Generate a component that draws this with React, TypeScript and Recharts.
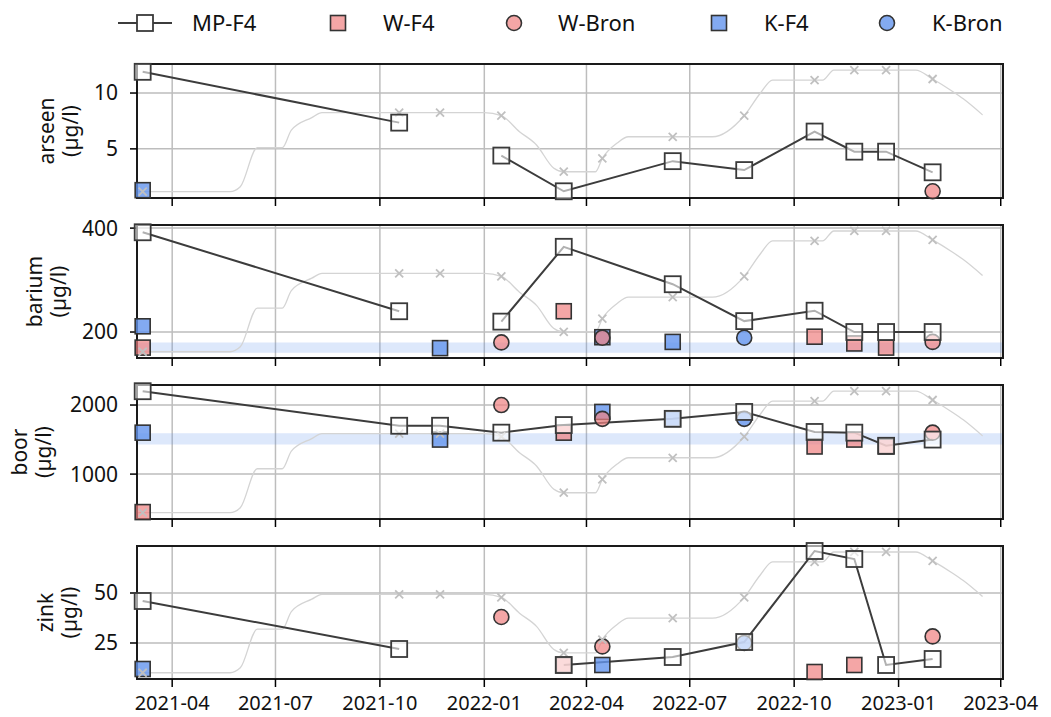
import React from 'react';
import {
  ComposedChart,
  Line,
  Scatter,
  XAxis,
  YAxis,
  CartesianGrid,
  ReferenceArea,
} from 'recharts';

// sampling dates (all series), MP-F4 has no sample on 2022-04-15
const sampleDates = [
  '2021-03-06', '2021-10-18', '2021-11-23', '2022-01-16', '2022-03-12', '2022-04-15',
  '2022-06-16', '2022-08-18', '2022-10-19', '2022-11-23', '2022-12-21', '2023-01-31',
];
const mpDates = [
  '2021-03-06', '2021-10-18', '2021-11-23', '2022-01-16', '2022-03-12',
  '2022-06-16', '2022-08-18', '2022-10-19', '2022-11-23', '2022-12-21', '2023-01-31',
];

const xTickDates = [
  '2021-04-01', '2021-07-01', '2021-10-01', '2022-01-01', '2022-04-01',
  '2022-07-01', '2022-10-01', '2023-01-01', '2023-04-01',
];
const xRange = ['2021-03-01', '2023-04-03'];

// background series (grey, own hidden axis 0-100)
const bgDates = [
  '2021-03-02', '2021-03-06', '2021-05-22', '2021-05-31', '2021-06-15', '2021-07-07',
  '2021-07-15', '2021-08-02', '2021-08-11', '2021-10-18', '2021-11-23', '2022-01-01',
  '2022-01-16', '2022-02-01', '2022-02-16', '2022-03-03', '2022-03-12', '2022-04-09',
  '2022-04-15', '2022-04-28', '2022-05-08', '2022-06-16', '2022-07-21', '2022-08-18',
  '2022-09-01', '2022-09-12', '2022-10-19', '2022-10-26', '2022-11-05', '2022-11-23',
  '2022-12-21', '2023-01-16', '2023-01-31', '2023-02-18', '2023-02-27', '2023-03-16',
];
const bgValues = [
  4.7, 4.7, 4.7, 8.4, 37.5, 37.5, 50.7, 60, 63.7, 63.7, 63.7, 63.7,
  61.4, 49.5, 39.6, 22.4, 19.6, 19.6, 29.6, 41, 45.7, 45.7, 45.7, 61.4,
  78, 88, 88, 88, 95.5, 95.5, 95.5, 95.5, 88.8, 79.3, 74, 62,
];

// arseen (µg/l)
const arseenMP = [11.9, 7.35, null, 4.4, 1.2, 3.9, 3.1, 6.55, 4.75, 4.75, 2.9];
const arseenWF4: (number | null)[] = [];
const arseenWBron = [null, null, null, null, null, null, null, null, null, null, null, 1.2];
const arseenKF4 = [1.3, null, null, null, null, null, null, null, null, null, null, null];
const arseenKBron: (number | null)[] = [];

// barium (µg/l)
const bariumMP = [392, 240, null, 220, 364, 292, 221, 241, 200, 200, 200];
const bariumWF4 = [170, null, null, null, 240, null, null, null, 191, 178, 170, null];
const bariumWBron = [null, null, null, 180, null, 189, null, null, null, null, null, 181];
const bariumKF4 = [211, null, 169, null, null, 190, 181, null, null, null, null, null];
const bariumKBron = [null, null, null, null, null, null, null, 189, null, null, null, null];

// boor (µg/l)
const boorMP = [2200, 1700, 1700, 1600, 1710, 1800, 1900, 1610, 1600, 1410, 1500];
const boorWF4 = [450, null, null, null, 1600, null, null, null, 1400, 1500, 1400, null];
const boorWBron = [null, null, null, 2000, null, 1800, null, null, null, null, null, 1600];
const boorKF4 = [1600, null, 1500, null, null, 1900, 1800, null, null, null, null, null];
const boorKBron = [null, null, null, null, null, null, null, 1800, null, null, null, null];

// zink (µg/l)
const zinkMP = [46, 22, null, null, 14, 18, 25.5, 71, 67, 14, 17];
const zinkWF4 = [null, null, null, null, 14, null, null, null, 10.5, 14, null, null];
const zinkWBron = [null, null, null, 38, null, 23.3, null, null, null, null, null, 28.3];
const zinkKF4 = [12, null, null, null, null, 14, null, null, null, null, null, null];
const zinkKBron = [null, null, null, null, null, null, null, 25, null, null, null, null];

const toTime = (d: string) => Date.parse(d);
const fmtMonth = (t: number) => new Date(t).toISOString().slice(0, 7);
const xMin = toTime(xRange[0]);
const xMax = toTime(xRange[1]);
const xTicks = xTickDates.map(toTime);

const rows = (dates: string[], values: (number | null)[]) =>
  dates.map((d, i) => ({ t: toTime(d), v: values[i] ?? null }));
const points = (values: (number | null)[]) =>
  rows(sampleDates, values).filter((r) => r.v != null);

const bgData = bgDates.map((d, i) => ({
  t: toTime(d),
  v: bgValues[i],
  m: sampleDates.includes(d),
}));

const FONT = '"Noto Sans", "Open Sans", sans-serif';
const RED = '#F08080';
const BLUE = '#6495ED';
const EDGE = '#333333';
const TOP_PAD = 14;

const square = (fill: string, opacity: number) => (props: any) => {
  const { cx, cy } = props;
  if (cx == null || cy == null) return <g />;
  return (
    <rect x={cx - 7.5} y={cy - 7.5} width={15} height={15} fill={fill}
      fillOpacity={opacity} stroke={EDGE} strokeWidth={1.6} />
  );
};
const circle = (fill: string, opacity: number) => (props: any) => {
  const { cx, cy } = props;
  if (cx == null || cy == null) return <g />;
  return <circle cx={cx} cy={cy} r={7.5} fill={fill} fillOpacity={opacity} stroke={EDGE} strokeWidth={1.6} />;
};

const mpDot = (props: any) => {
  const { cx, cy, key, payload } = props;
  if (payload?.v == null || cx == null || cy == null) return <g key={key} />;
  return (
    <rect key={key} x={cx - 8} y={cy - 8} width={16} height={16} fill="#ffffff"
      fillOpacity={0.6} stroke="#3a3a3a" strokeWidth={1.8} />
  );
};

const bgDot = (props: any) => {
  const { cx, cy, key, payload } = props;
  if (!payload?.m || cx == null || cy == null) return <g key={key} />;
  return (
    <path key={key}
      d={`M${cx - 4},${cy - 4}L${cx + 4},${cy + 4}M${cx - 4},${cy + 4}L${cx + 4},${cy - 4}`}
      stroke="#c0c0c0" strokeWidth={1.8} />
  );
};

interface PanelProps {
  name: string;
  plotTop: number;
  plotBottom: number;
  domain: [number, number];
  ticks: number[];
  mp: (number | null)[];
  wF4: (number | null)[];
  wBron: (number | null)[];
  kF4: (number | null)[];
  kBron: (number | null)[];
  band?: [number, number];
  titleX: number;
  showDates?: boolean;
}

const Panel: React.FC<PanelProps> = (p) => {
  const axisH = p.showDates ? 38 : 10;
  const plotH = p.plotBottom - p.plotTop;
  const midY = (p.plotTop + p.plotBottom) / 2;
  const ty = midY - p.plotTop + 10;
  return (
    <>
      <svg width={100} height={plotH + 20} style={{ position: 'absolute', left: 0, top: p.plotTop - 10 }}>
        <text x={p.titleX} y={ty} textAnchor="middle" fontSize={21} fill="#111"
          fontFamily={FONT} transform={`rotate(-90, ${p.titleX}, ${ty})`}>
          {p.name}
        </text>
        <text x={p.titleX + 24} y={ty} textAnchor="middle" fontSize={21} fill="#111"
          fontFamily={FONT} transform={`rotate(-90, ${p.titleX + 24}, ${ty})`}>
          (µg/l)
        </text>
      </svg>
      <div style={{ position: 'absolute', left: 0, top: p.plotTop - TOP_PAD }}>
        <ComposedChart width={1051} height={TOP_PAD + plotH + axisH}
          margin={{ top: TOP_PAD, right: 48, bottom: 0, left: 77 }}>
          <CartesianGrid yAxisId="l" stroke="#bdbdbd" strokeWidth={1.5} />
          {p.band && (
            <ReferenceArea yAxisId="l" x1={xMin} x2={xMax} y1={p.band[0]} y2={p.band[1]}
              fill={BLUE} fillOpacity={0.22} stroke="none" />
          )}
          <XAxis dataKey="t" type="number" domain={[xMin, xMax]} ticks={xTicks} interval={0}
            height={axisH} tickSize={8} tickMargin={9} axisLine={false}
            tickLine={{ stroke: '#000', strokeWidth: 1.5 }}
            tick={{ fontSize: 20, fill: '#111', fontFamily: FONT }}
            tickFormatter={(t: number) => (p.showDates ? fmtMonth(t) : '')} />
          <YAxis yAxisId="l" width={60} domain={p.domain} ticks={p.ticks} interval={0}
            tickSize={7} tickMargin={12} axisLine={false}
            tickLine={{ stroke: '#000', strokeWidth: 1.5 }}
            tick={{ fontSize: 21, fill: '#111', fontFamily: FONT }} />
          <YAxis yAxisId="r" orientation="right" width={0} domain={[0, 100]} hide />

          <Scatter yAxisId="l" data={points(p.kF4)} dataKey="v" shape={square(BLUE, 0.8)} isAnimationActive={false} />
          <Scatter yAxisId="l" data={points(p.kBron)} dataKey="v" shape={circle(BLUE, 0.8)} isAnimationActive={false} />
          <Scatter yAxisId="l" data={points(p.wF4)} dataKey="v" shape={square(RED, 0.7)} isAnimationActive={false} />
          <Scatter yAxisId="l" data={points(p.wBron)} dataKey="v" shape={circle(RED, 0.7)} isAnimationActive={false} />

          <Line yAxisId="r" data={bgData} dataKey="v" type="monotone" stroke="#d4d4d4" strokeWidth={1.3}
            dot={bgDot} activeDot={false} isAnimationActive={false} />
          <Line yAxisId="l" data={rows(mpDates, p.mp)} dataKey="v" type="linear" stroke="#3c3c3c"
            strokeWidth={2} dot={mpDot} activeDot={false} isAnimationActive={false} />

          <ReferenceArea yAxisId="l" x1={xMin} x2={xMax} y1={p.domain[0]} y2={p.domain[1]}
            fill="none" fillOpacity={0} stroke="#1a1a1a" strokeWidth={2} />
        </ComposedChart>
      </div>
    </>
  );
};

const legendItems = [
  { label: 'MP-F4', kind: 'mp', x: 145, tx: 192 },
  { label: 'W-F4', kind: 'sq', color: RED, op: 0.7, x: 338, tx: 383 },
  { label: 'W-Bron', kind: 'ci', color: RED, op: 0.7, x: 514, tx: 558 },
  { label: 'K-F4', kind: 'sq', color: BLUE, op: 0.8, x: 719, tx: 764 },
  { label: 'K-Bron', kind: 'ci', color: BLUE, op: 0.8, x: 887, tx: 932 },
];

const LegendBar = () => (
  <svg width={1051} height={46} style={{ position: 'absolute', left: 0, top: 0 }}>
    {legendItems.map((it) => (
      <g key={it.label}>
        {it.kind === 'mp' && (
          <>
            <line x1={it.x - 27} x2={it.x + 27} y1={23} y2={23} stroke="#3c3c3c" strokeWidth={2} />
            <rect x={it.x - 8} y={15} width={16} height={16} fill="#fff" stroke="#3a3a3a" strokeWidth={1.8} />
          </>
        )}
        {it.kind === 'sq' && (
          <rect x={it.x - 7.5} y={15.5} width={15} height={15} fill={it.color} fillOpacity={it.op}
            stroke={EDGE} strokeWidth={1.6} />
        )}
        {it.kind === 'ci' && (
          <circle cx={it.x} cy={23} r={7.5} fill={it.color} fillOpacity={it.op} stroke={EDGE} strokeWidth={1.6} />
        )}
        <text x={it.tx} y={31} fontSize={22} fill="#111" fontFamily={FONT}>{it.label}</text>
      </g>
    ))}
  </svg>
);

export default function App() {
  return (
    <div style={{
      position: 'absolute', left: 0, top: 0, width: 1051, height: 717,
      background: '#fff', fontFamily: FONT,
    }}>
      <LegendBar />
      <Panel name="arseen" plotTop={64} plotBottom={198} domain={[0.6, 12.6]} ticks={[5, 10]}
        mp={arseenMP} wF4={arseenWF4} wBron={arseenWBron} kF4={arseenKF4} kBron={arseenKBron} titleX={54} />
      <Panel name="barium" plotTop={225} plotBottom={358} domain={[150, 406]} ticks={[200, 400]}
        mp={bariumMP} wF4={bariumWF4} wBron={bariumWBron} kF4={bariumKF4} kBron={bariumKBron}
        band={[160, 180]} titleX={42} />
      <Panel name="boor" plotTop={385} plotBottom={519} domain={[350, 2290]} ticks={[1000, 2000]}
        mp={boorMP} wF4={boorWF4} wBron={boorWBron} kF4={boorKF4} kBron={boorKBron}
        band={[1430, 1590]} titleX={27} />
      <Panel name="zink" plotTop={546} plotBottom={679} domain={[7, 73.5]} ticks={[25, 50]}
        mp={zinkMP} wF4={zinkWF4} wBron={zinkWBron} kF4={zinkKF4} kBron={zinkKBron}
        titleX={53} showDates />
    </div>
  );
}
